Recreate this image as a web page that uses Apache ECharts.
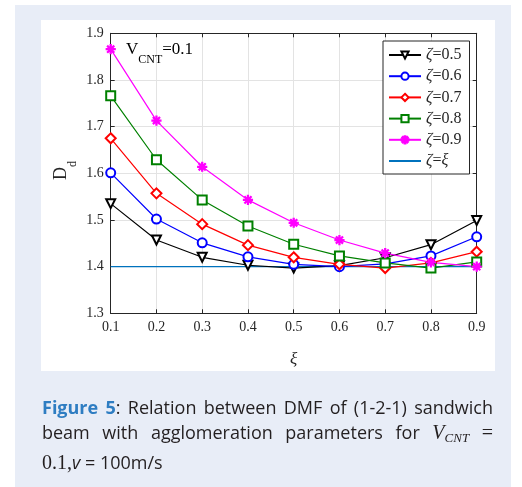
<!DOCTYPE html>
<html>
<head>
<meta charset="utf-8">
<script src="https://cdn.jsdelivr.net/npm/echarts@6/dist/echarts.min.js"></script>
<style>
  html, body { margin: 0; padding: 0; background: #ffffff; width: 522px; height: 487px; overflow: hidden; }
  #panel { position: absolute; left: 15px; top: 5px; width: 496px; height: 482px; background: #e8edf7; }
  #white { position: absolute; left: 41px; top: 20px; width: 454px; height: 351px; background: #ffffff; }
  #chart { position: absolute; left: 0; top: 0; width: 522px; height: 487px; }
  #cap { position: absolute; left: 42px; top: 395px; width: 451px; font-family: "Open Sans", sans-serif; font-size: 18px; line-height: 25px; color: #231f20; }
  #cap .l { white-space: nowrap; }
  #cap .j { text-align: justify; text-align-last: justify; }
  #cap .fig { color: #2e7dc2; font-weight: bold; }
  #cap .m { font-family: "Liberation Serif", serif; font-size: 20px; }
  #cap sub { font-size: 13px; vertical-align: -3px; }
</style>
</head>
<body>
<div id="panel"></div>
<div id="white"></div>
<div id="chart"></div>
<div id="cap">
  <div class="l j"><span class="fig">Figure 5</span>: Relation between DMF of (1-2-1) sandwich</div>
  <div class="l j">beam with agglomeration parameters for <span class="m"><i>V</i><sub><i>CNT</i></sub></span> <span class="m">=</span></div>
  <div class="l"><span class="m">0.1,</span><i>v</i> = 100m/s</div>
</div>
<script>
// ---- data ----
const xiValues = ['0.1', '0.2', '0.3', '0.4', '0.5', '0.6', '0.7', '0.8', '0.9'];
const yTicks = [1.3, 1.4, 1.5, 1.6, 1.7, 1.8, 1.9];
const zeta05 = [1.535, 1.457, 1.420, 1.403, 1.397, 1.402, 1.419, 1.447, 1.499];
const zeta06 = [1.601, 1.502, 1.451, 1.421, 1.405, 1.400, 1.406, 1.423, 1.464];
const zeta07 = [1.675, 1.557, 1.491, 1.446, 1.420, 1.405, 1.397, 1.408, 1.432];
const zeta08 = [1.766, 1.629, 1.543, 1.487, 1.448, 1.423, 1.408, 1.397, 1.410];
const zeta09 = [1.866, 1.713, 1.614, 1.543, 1.494, 1.457, 1.429, 1.409, 1.400];
const zetaXi = [1.4, 1.4, 1.4, 1.4, 1.4, 1.4, 1.4, 1.4, 1.4];
const seriesNames = ['ζ=0.5', 'ζ=0.6', 'ζ=0.7', 'ζ=0.8', 'ζ=0.9', 'ζ=ξ'];

const serif = '"Liberation Serif", "DejaVu Serif", serif';
const axisColor = '#262626';
const asterisk = 'path://M-0.6,-5L0.6,-5L0.6,5L-0.6,5Z M-5,-0.6L5,-0.6L5,0.6L-5,0.6Z M-3.1,-3.9L3.9,3.1L3.1,3.9L-3.9,-3.1Z M-3.1,3.9L-3.9,3.1L3.1,-3.9L3.9,-3.1Z';

function lineSeries(name, data, color, symbol, size, rotate) {
  return {
    name: name, type: 'line', data: data,
    xAxisIndex: 0, yAxisIndex: 0,
    symbol: symbol, symbolSize: size, symbolRotate: rotate || 0,
    showAllSymbol: true,
    lineStyle: { color: color, width: 1.2 },
    itemStyle: { color: color, borderColor: color, borderWidth: 1.2 },
    emphasis: { disabled: true },
    animation: false
  };
}

const chart = echarts.init(document.getElementById('chart'), null, { renderer: 'canvas' });
chart.setOption({
  backgroundColor: 'transparent',
  animation: false,
  grid: { left: 110.7, top: 33.3, width: 366, height: 280, containLabel: false },
  xAxis: [
    {
      type: 'category', data: xiValues, boundaryGap: false, position: 'bottom',
      name: 'ξ', nameLocation: 'middle', nameGap: 38,
      nameTextStyle: { fontFamily: serif, fontStyle: 'italic', fontSize: 17, color: axisColor },
      axisLine: { lineStyle: { color: axisColor, width: 1 } },
      axisTick: { inside: true, length: 4, alignWithLabel: true, lineStyle: { color: axisColor } },
      axisLabel: { fontFamily: serif, fontSize: 14, color: axisColor, margin: 7 },
      splitLine: { show: true, lineStyle: { color: '#e3e3e3', width: 1 } }
    },
    {
      type: 'category', data: xiValues, boundaryGap: false, position: 'top',
      axisLine: { lineStyle: { color: axisColor, width: 1 } },
      axisTick: { inside: true, length: 4, lineStyle: { color: axisColor } },
      axisLabel: { show: false }, splitLine: { show: false }
    }
  ],
  yAxis: [
    {
      type: 'value', min: 1.3, max: 1.9, interval: 0.1, position: 'left',
      axisLine: { show: true, lineStyle: { color: axisColor, width: 1 } },
      axisTick: { show: true, inside: true, length: 4, lineStyle: { color: axisColor } },
      axisLabel: { fontFamily: serif, fontSize: 14, color: axisColor, margin: 7,
        formatter: function (v) { return v.toFixed(1); } },
      splitLine: { show: true, lineStyle: { color: '#e3e3e3', width: 1 } }
    },
    {
      type: 'value', min: 1.3, max: 1.9, interval: 0.1, position: 'right',
      axisLine: { show: true, lineStyle: { color: axisColor, width: 1 } },
      axisTick: { show: true, inside: true, length: 4, lineStyle: { color: axisColor } },
      axisLabel: { show: false }, splitLine: { show: false }
    }
  ],
  legend: {
    orient: 'vertical', left: 383, top: 41,
    padding: [6, 8, 5, 5], itemGap: 5.2, itemWidth: 32, itemHeight: 9,
    backgroundColor: '#ffffff', borderColor: axisColor, borderWidth: 1, borderRadius: 0,
    data: seriesNames.slice(0, 5).concat([{ name: seriesNames[5], itemStyle: { color: 'rgba(0,0,0,0)', borderColor: 'rgba(0,0,0,0)', borderWidth: 0, opacity: 0 } }]),
    formatter: function (n) {
      return '{g|' + n.charAt(0) + '}{t|' + n.slice(1).replace('ξ', '') + '}' + (n.endsWith('ξ') ? '{g|ξ}' : '');
    },
    textStyle: {
      fontFamily: serif, fontSize: 16, color: axisColor, lineHeight: 14,
      rich: {
        g: { fontFamily: serif, fontStyle: 'italic', fontSize: 16, lineHeight: 14, color: axisColor },
        t: { fontFamily: serif, fontSize: 16, lineHeight: 14, color: axisColor }
      }
    }
  },
  graphic: [
    {
      type: 'text', left: 126, top: 41, z: 100,
      style: {
        text: '{v|V}{s|CNT}{v|=0.1}',
        rich: {
          v: { fontFamily: serif, fontSize: 17, lineHeight: 22, verticalAlign: 'top', fill: '#000' },
          s: { fontFamily: serif, fontSize: 12, lineHeight: 12, verticalAlign: 'bottom', fill: '#000', padding: [0, 0, -3, 0] }
        }
      }
    },
    {
      type: 'text', x: 52, y: 180, rotation: Math.PI / 2, z: 100,
      style: {
        text: '{v|D}{s|d}',
        rich: {
          v: { fontFamily: serif, fontSize: 18, lineHeight: 22, verticalAlign: 'top', fill: axisColor },
          s: { fontFamily: serif, fontSize: 12, lineHeight: 12, verticalAlign: 'bottom', fill: axisColor, padding: [0, 0, -5, 0] }
        }
      }
    }
  ],
  series: [
    lineSeries(seriesNames[0], zeta05, '#000000', 'emptyTriangle', 9, 180),
    lineSeries(seriesNames[1], zeta06, '#0000ff', 'emptyCircle', 9),
    lineSeries(seriesNames[2], zeta07, '#ff0000', 'emptyDiamond', 10),
    lineSeries(seriesNames[3], zeta08, '#008000', 'emptyRect', 9),
    lineSeries(seriesNames[4], zeta09, '#ff00ff', asterisk, 9),
    Object.assign(lineSeries(seriesNames[5], zetaXi, '#0072bd', 'none', 0), { z: 1 })
  ]
});
</script>
</body>
</html>
